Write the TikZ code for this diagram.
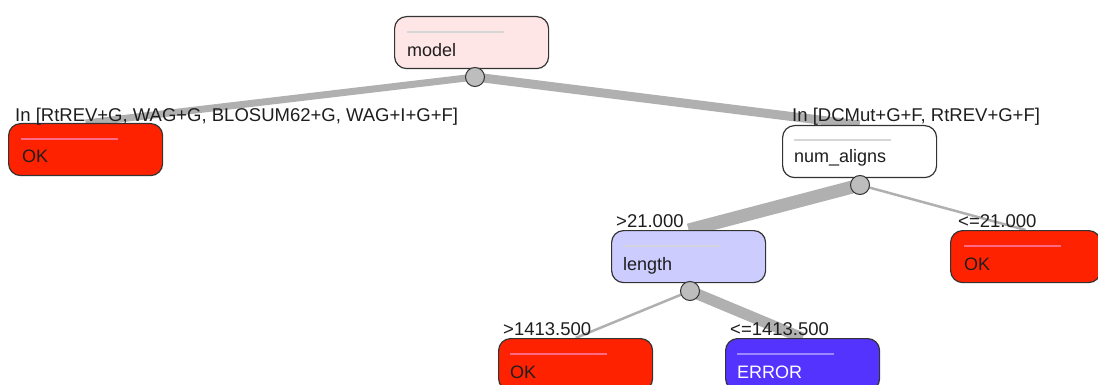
\documentclass[tikz,border=0pt]{standalone}
\usepackage{fontspec}
\setmainfont{Liberation Sans}
\pgfdeclarelayer{background}
\pgfsetlayers{background,main}
\definecolor{edgegray}{HTML}{B0B0B0}
\definecolor{dotgray}{HTML}{BDBDBD}
\definecolor{boxline}{HTML}{333333}
\definecolor{pinkfill}{HTML}{FFE6E6}
\definecolor{redfill}{HTML}{FF2200}
\definecolor{redsep}{HTML}{FF6A86}
\definecolor{lavfill}{HTML}{CCCCFF}
\definecolor{bluefill}{HTML}{5533FF}
\definecolor{bluesep}{HTML}{9C88FF}
\definecolor{graysep}{HTML}{D6D6D6}
\definecolor{txt}{HTML}{1E1E1E}
\tikzset{
  x=1pt, y=-1pt,
  treebox/.style={draw=boxline, line width=1.2pt, rounded corners=12pt, rectangle,
    anchor=north west, minimum width=154pt, minimum height=52pt, inner sep=0pt},
  sepline/.style={line width=2pt},
  boxtext/.style={anchor=base west, inner sep=0pt, text=txt, font=\fontsize{18}{20}\selectfont},
  lbl/.style={anchor=base west, inner sep=0pt, text=txt, font=\fontsize{18.5}{20}\selectfont},
  dot/.style={circle, draw=boxline, line width=1pt, fill=dotgray, minimum size=19pt, inner sep=0pt},
  edge/.style={draw=edgegray}
}
\begin{document}
\begin{tikzpicture}
\useasboundingbox (0,0) rectangle (1098,385);
% boxes
\node[treebox, fill=pinkfill] (model) at (394,16) {};
\node[treebox, fill=redfill] (ok1) at (8,123) {};
\node[treebox, fill=white] (numal) at (782,125) {};
\node[treebox, fill=lavfill] (length) at (611,230) {};
\node[treebox, fill=redfill, minimum width=150pt] (ok2) at (950,230) {};
\node[treebox, fill=redfill] (ok3) at (498,338) {};
\node[treebox, fill=bluefill] (err) at (725,338) {};
% separator lines
\draw[sepline, draw=graysep] ([xshift=13pt,yshift=-16pt]model.north west) -- ++(97,0);
\draw[sepline, draw=redsep] ([xshift=13pt,yshift=-16pt]ok1.north west) -- ++(97,0);
\draw[sepline, draw=graysep] ([xshift=12pt,yshift=-15pt]numal.north west) -- ++(97,0);
\draw[sepline, draw=graysep!80!lavfill] ([xshift=12pt,yshift=-16pt]length.north west) -- ++(97,0);
\draw[sepline, draw=redsep] ([xshift=14pt,yshift=-16pt]ok2.north west) -- ++(97,0);
\draw[sepline, draw=redsep] ([xshift=12pt,yshift=-16pt]ok3.north west) -- ++(97,0);
\draw[sepline, draw=bluesep] ([xshift=12pt,yshift=-16pt]err.north west) -- ++(97,0);
% box texts
\node[boxtext] (modeltxt) at ([xshift=13pt,yshift=-41pt]model.north west) {model};
\node[boxtext] (ok1txt) at ([xshift=14pt,yshift=-40pt]ok1.north west) {OK};
\node[boxtext] (numaltxt) at ([xshift=12pt,yshift=-38pt]numal.north west) {num\_aligns};
\node[boxtext] (lengthtxt) at ([xshift=12pt,yshift=-40pt]length.north west) {length};
\node[boxtext] (ok2txt) at ([xshift=14pt,yshift=-40pt]ok2.north west) {OK};
\node[boxtext] (ok3txt) at ([xshift=12pt,yshift=-40pt]ok3.north west) {OK};
\node[boxtext, text=white] (errtxt) at ([xshift=12pt,yshift=-40pt]err.north west) {ERROR};
% split dots
\node[dot] (c1) at (475,77) {};
\node[dot] (c2) at (860,185) {};
\node[dot] (c3) at (690,291) {};
% edges
\begin{pgfonlayer}{background}
\draw[edge, line width=7pt] (c1.center) -- (ok1.north);
\draw[edge, line width=9pt] (c1.center) -- (numal.north);
\draw[edge, line width=13pt] (c2.center) -- (length.north);
\draw[edge, line width=2.5pt] (c2.center) -- (ok2.north);
\draw[edge, line width=2.5pt] (c3.center) -- (ok3.north);
\draw[edge, line width=11pt] (c3.center) -- (err.north);
\end{pgfonlayer}
% edge labels
\node[lbl] (l1) at (15,122) {In [RtREV+G, WAG+G, BLOSUM62+G, WAG+I+G+F]};
\node[lbl] (l2) at (792,122) {In [DCMut+G+F, RtREV+G+F]};
\node[lbl] (l3) at (616,227) {>21.000};
\node[lbl] (l4) at (958,227) {<=21.000};
\node[lbl] (l5) at (503,335) {>1413.500};
\node[lbl] (l6) at (730,335) {<=1413.500};
\end{tikzpicture}
\end{document}
